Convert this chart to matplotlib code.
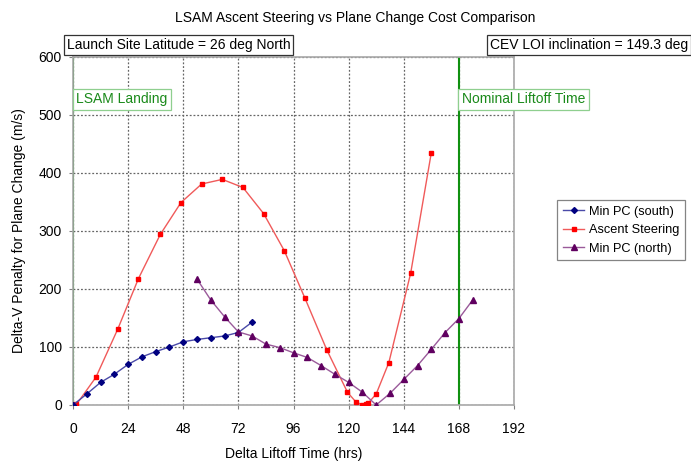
import matplotlib
matplotlib.use("Agg")
import matplotlib.pyplot as plt

plt.rcParams['font.family'] = ['Liberation Sans', 'DejaVu Sans']

# Min PC (south)
south_hrs = [0, 6, 12, 18, 24, 30, 36, 42, 48, 54, 60, 66, 72, 78]
south_dv = [0, 19, 39, 53, 70, 83, 92, 100, 109, 113, 116, 119, 125, 143]

# Ascent steering
steer_hrs = [0, 1.5, 10, 19.5, 28.5, 38, 47, 56, 65, 74, 83, 92, 101, 110.5,
             119.5, 123, 126, 127.5, 128.5, 132, 137.5, 147, 156]
steer_dv = [0, 1, 48, 131, 218, 294, 349, 381, 389, 375, 330, 266, 184, 95,
            22, 6, 0, 1, 3, 19, 73, 227, 435]

# Min PC (north)
north_hrs = [54, 60, 66, 72, 78, 84, 90, 96, 102, 108, 114, 120, 126, 132,
             138, 144, 150, 156, 162, 168, 174]
north_dv = [217, 181, 152, 126, 119, 105, 99, 90, 82, 68, 53, 39, 22, 0,
            20, 44, 68, 96, 125, 149, 181]

x_ticks = [0, 24, 48, 72, 96, 120, 144, 168, 192]
y_ticks = [0, 100, 200, 300, 400, 500, 600]
event_hrs = [0, 168]
event_labels = ["LSAM Landing", "Nominal Liftoff Time"]

FS = 10

fig = plt.figure(figsize=(6.91, 4.63), dpi=100)
ax = fig.add_axes([73 / 691, 1 - 405 / 463, (514 - 73) / 691, (405 - 57) / 463])

ax.set_xlim(0, 192)
ax.set_ylim(0, 600)
ax.set_xticks(x_ticks)
ax.set_yticks(y_ticks)
ax.tick_params(axis='both', labelsize=FS, length=3, color='#808080')
ax.tick_params(axis='x', pad=9)
ax.tick_params(axis='y', pad=5)
ax.grid(True, linestyle=(0, (1.5, 1.5)), color='#666666', linewidth=0.9)
ax.set_axisbelow(True)
for side in ['left', 'right', 'top', 'bottom']:
    ax.spines[side].set_color('#a8a8a8')
    ax.spines[side].set_linewidth(1.2)

for h in event_hrs:
    ax.axvline(h, color='#109010', linewidth=1.5, zorder=2)

ax.plot(south_hrs, south_dv, color='#4a4aa8', linewidth=1.0, marker='D',
        markersize=3, markerfacecolor='#000080', markeredgecolor='#000080',
        label='Min PC (south)', zorder=4)
ax.plot(steer_hrs, steer_dv, color='#f05a5a', linewidth=1.0, marker='s',
        markersize=3.5, markerfacecolor='#ff0000', markeredgecolor='#ff0000',
        label='Ascent Steering', zorder=3)
ax.plot(north_hrs, north_dv, color='#9a5a9a', linewidth=1.0, marker='^',
        markersize=4, markerfacecolor='#600060', markeredgecolor='#600060',
        label='Min PC (north)', zorder=5)

ax.set_xlabel('Delta Liftoff Time (hrs)', fontsize=FS, labelpad=8)
ax.set_ylabel('Delta-V Penalty for Plane Change (m/s)', fontsize=FS, labelpad=9)

fig.text(355 / 691, 1 - 18 / 463, 'LSAM Ascent Steering vs Plane Change Cost Comparison',
         ha='center', va='center', fontsize=FS)

box = dict(boxstyle='square,pad=0.2', facecolor='white', edgecolor='#333333', linewidth=0.9)
fig.text(67 / 691, 1 - 45 / 463, 'Launch Site Latitude = 26 deg North',
         ha='left', va='center', fontsize=FS, bbox=box)
fig.text(490 / 691, 1 - 45 / 463, 'CEV LOI inclination = 149.3 deg',
         ha='left', va='center', fontsize=FS, bbox=box)

gbox = dict(boxstyle='square,pad=0.25', facecolor='white', edgecolor='#8fcf8f', linewidth=0.9)
ax.text(1.3, 527, event_labels[0], ha='left', va='center', fontsize=FS,
        color='#1a8a1a', bbox=gbox, zorder=6)
ax.text(169.3, 527, event_labels[1], ha='left', va='center', fontsize=FS,
        color='#1a8a1a', bbox=gbox, zorder=6, clip_on=False)

leg = fig.legend(loc='upper left', bbox_to_anchor=(557 / 691, 1 - 200 / 463),
                 borderaxespad=0, fontsize=9.2, frameon=True, fancybox=False,
                 edgecolor='#666666', handlelength=1.7, handletextpad=0.35,
                 borderpad=0.45, labelspacing=0.5)
leg.get_frame().set_linewidth(0.9)

fig.savefig('out.png', dpi=100)
